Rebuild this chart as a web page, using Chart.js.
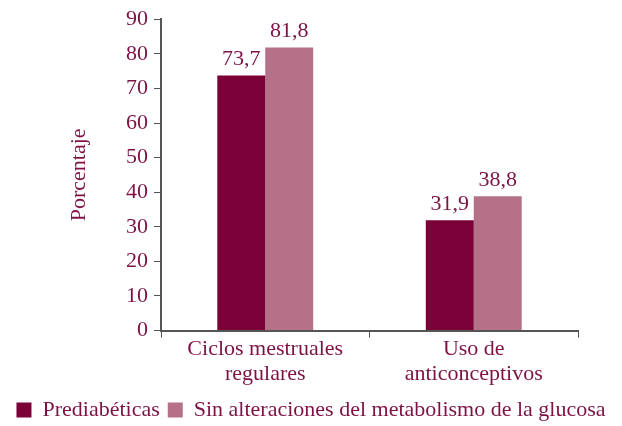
<!DOCTYPE html>
<html>
<head>
<meta charset="UTF-8">
<script src="https://cdn.jsdelivr.net/npm/chart.js"></script>
<style>
  body { margin: 0; background: #fff; }
  #wrap { width: 622px; height: 426px; }
</style>
</head>
<body>
<div id="wrap"><canvas id="chart" width="622" height="426"></canvas></div>
<script>
const categories = [['Ciclos mestruales', 'regulares'], ['Uso de', 'anticonceptivos']];
const seriesNames = ['Prediabéticas', 'Sin alteraciones del metabolismo de la glucosa'];
const prediabeticas = [73.7, 31.9];
const sinAlteraciones = [81.8, 38.8];
const yTicks = [0, 10, 20, 30, 40, 50, 60, 70, 80, 90];

const TEXT = '#7d1245';
const AXIS = '#555555';
const FONT = 'Liberation Serif';
const SIZE = 22;

// draw the value over each bar, with a comma as decimal mark
const valueLabels = {
  id: 'valueLabels',
  afterDatasetsDraw(chart) {
    const ctx = chart.ctx;
    ctx.save();
    ctx.font = SIZE + 'px "' + FONT + '"';
    ctx.fillStyle = TEXT;
    ctx.textAlign = 'center';
    ctx.textBaseline = 'bottom';
    chart.data.datasets.forEach((ds, i) => {
      chart.getDatasetMeta(i).data.forEach((bar, j) => {
        ctx.fillText(ds.data[j].toFixed(1).replace('.', ','), bar.x, bar.y - 5);
      });
    });
    ctx.restore();
  }
};

new Chart(document.getElementById('chart'), {
  type: 'bar',
  data: {
    labels: categories,
    datasets: [
      { label: seriesNames[0], data: prediabeticas, backgroundColor: '#7a0037' },
      { label: seriesNames[1], data: sinAlteraciones, backgroundColor: '#b57188' }
    ]
  },
  options: {
    responsive: false,
    animation: false,
    barPercentage: 1,
    categoryPercentage: 0.46,
    layout: { padding: { left: 0, right: 0, top: 8, bottom: -5 } },
    plugins: {
      tooltip: { enabled: false },
      legend: {
        position: 'bottom',
        labels: {
          color: TEXT,
          font: { family: FONT, size: SIZE },
          boxWidth: 15,
          boxHeight: 15,
          padding: 8,
          useBorderRadius: false
        }
      }
    },
    scales: {
      x: {
        afterFit(axis) { axis.height += 5; },
        grid: { drawOnChartArea: false, color: AXIS, tickLength: 7 },
        border: { color: AXIS, width: 2 },
        ticks: { color: TEXT, font: { family: FONT, size: SIZE, lineHeight: 1.1 }, padding: 0 }
      },
      y: {
        min: 0,
        max: 90,
        afterBuildTicks(axis) { axis.ticks = yTicks.map(v => ({ value: v })); },
        afterFit(axis) { axis.width = 161; },
        grid: { drawOnChartArea: false, color: AXIS, tickLength: 7 },
        border: { color: AXIS, width: 2 },
        ticks: { color: TEXT, font: { family: FONT, size: SIZE }, padding: 6 },
        title: {
          display: true,
          text: 'Porcentaje',
          color: TEXT,
          font: { family: FONT, size: SIZE },
          padding: { top: 66, bottom: 0 }
        }
      },
      // empty right axis, only keeps room on the right of the plot
      yRight: {
        position: 'right',
        display: true,
        afterFit(axis) { axis.width = 44; },
        grid: { display: false },
        border: { display: false },
        ticks: { display: false }
      }
    }
  },
  plugins: [valueLabels]
});
</script>
</body>
</html>
